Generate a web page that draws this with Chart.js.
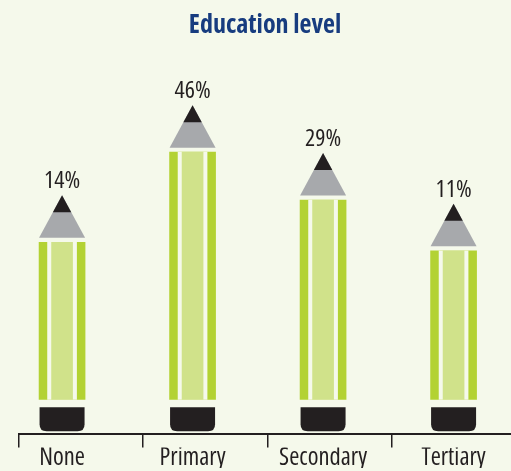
<!DOCTYPE html>
<html><head><meta charset="utf-8">
<script src="https://cdn.jsdelivr.net/npm/chart.js@4"></script>
<style>
html,body{margin:0;padding:0;background:#f5f9eb;}
#wrap{width:511px;height:471px;position:relative;}
</style></head><body>
<div id="wrap"><canvas id="c"></canvas></div>
<script>
const categories = ['None', 'Primary', 'Secondary', 'Tertiary'];
const values = [14, 46, 29, 11];
const valueLabels = values.map(v => v + '%');

const FAMILY = "'Open Sans', sans-serif";
const INK = '#231f20';
const BG = '#f5f9eb';
const BASE = -41.8;

const points = categories.map((c, i) => ({ x: i, y: values[i] }));

const pencilPlugin = {
  id: 'pencil',
  afterDatasetsDraw(chart) {
    const meta = chart.getDatasetMeta(0);
    const ctx = chart.ctx;
    ctx.save();
    meta.data.forEach((el, i) => {
      const x = el.x, top = el.y, bottom = el.base;
      const baseY = top - 4.5, apexY = top - 47, tipY = top - 30;
      const hw = 23;
      ctx.fillStyle = '#a7a9ac';
      ctx.beginPath(); ctx.moveTo(x - hw, baseY); ctx.lineTo(x + hw, baseY); ctx.lineTo(x, apexY); ctx.closePath(); ctx.fill();
      const bw = hw * (tipY - apexY) / (baseY - apexY);
      ctx.fillStyle = INK;
      ctx.beginPath(); ctx.moveTo(x - bw, tipY); ctx.lineTo(x + bw, tipY); ctx.lineTo(x, apexY); ctx.closePath(); ctx.fill();
      // eraser
      const ew = 45, et = bottom + 7.7, eh = 24, r = 7;
      const l = x - ew / 2, rr = x + ew / 2, b = et + eh;
      ctx.beginPath();
      ctx.moveTo(l, et); ctx.lineTo(rr, et); ctx.lineTo(rr, b - r);
      ctx.quadraticCurveTo(rr, b, rr - r, b);
      ctx.lineTo(l + r, b);
      ctx.quadraticCurveTo(l, b, l, b - r);
      ctx.closePath(); ctx.fill();
      // value label
      ctx.font = 'condensed 24px ' + FAMILY;
      ctx.textAlign = 'center'; ctx.textBaseline = 'alphabetic';
      ctx.fillText(valueLabels[i], x, apexY - 7);
    });
    ctx.restore();
  }
};

new Chart(document.getElementById('c'), {
  type: 'bar',
  data: {
    datasets: [
      { data: points, backgroundColor: '#d0e28a', barThickness: 21, order: 1, base: BASE, grouped: false, borderWidth: 0 },
      { data: points, backgroundColor: BG, barThickness: 29, order: 2, base: BASE, grouped: false, borderWidth: 0 },
      { data: points, backgroundColor: '#b3d233', barThickness: 46, order: 3, base: BASE, grouped: false, borderWidth: 0 }
    ]
  },
  plugins: [pencilPlugin],
  options: {
    responsive: true, maintainAspectRatio: false, animation: false,
    layout: { padding: { left: 19, right: 0, top: 0, bottom: 3 } },
    plugins: {
      legend: { display: false }, tooltip: { enabled: false },
      title: { display: true, text: 'Education level', color: '#173c7f',
        font: { family: FAMILY, size: 26, weight: 'bold condensed', lineHeight: 1.2 },
        padding: { top: 10, bottom: 20 } }
    },
    scales: {
      x: { type: 'linear', axis: 'x', position: 'bottom', weight: 1, min: -0.33, max: 3.44, offset: false,
        afterBuildTicks: s => { s.ticks = categories.map((c, i) => ({ value: i })); },
        ticks: { callback: v => categories[v], color: INK, font: { family: FAMILY, size: 24.5, weight: 'normal condensed', lineHeight: 1 }, padding: -2, autoSkip: false, maxRotation: 0 },
        grid: { display: false, drawTicks: false, offset: false }, border: { display: false } },
      x2: { type: 'linear', axis: 'x', position: 'bottom', weight: 0, min: 0, max: 3.961, offset: false,
        afterBuildTicks: s => { s.ticks = categories.map((c, i) => ({ value: i })); },
        ticks: { display: false },
        grid: { display: true, drawOnChartArea: false, drawTicks: true, tickLength: 14, color: INK, lineWidth: 1.5, offset: false },
        border: { display: true, color: INK, width: 2 } },
      y: { display: false, min: -53.88, max: 78.31 }
    }
  }
});
</script>
</body></html>
